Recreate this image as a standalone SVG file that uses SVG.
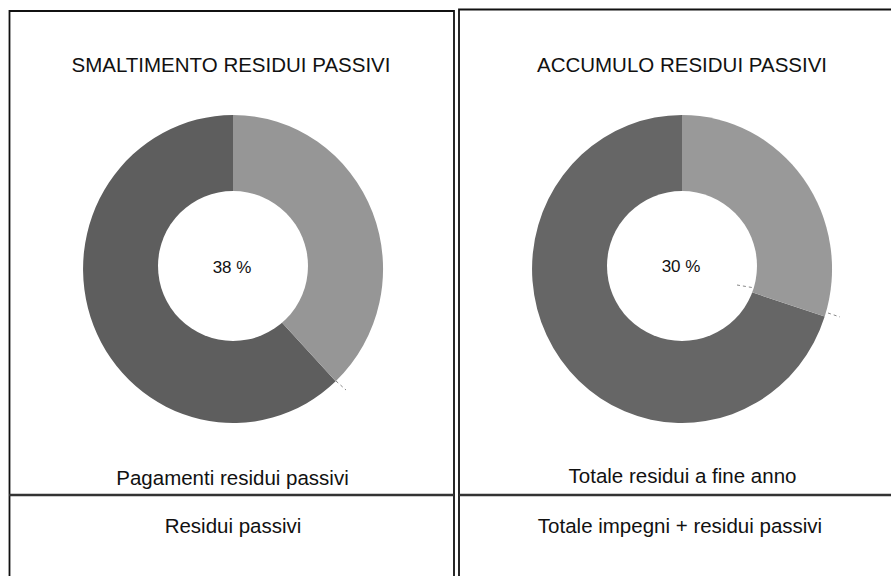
<svg xmlns="http://www.w3.org/2000/svg" width="891" height="576" viewBox="0 0 891 576">
<style>
.t{font-family:"Liberation Sans",Arial,sans-serif;fill:#111;text-anchor:middle}
.h{font-size:20.5px}
.p{font-size:17px}
.b{stroke:#111;stroke-width:1.8;fill:none}
.d{stroke:#333;stroke-width:2.4;fill:none}
.lead{stroke:#888;stroke-width:1;stroke-dasharray:3 3;fill:none}
.hole{fill:#fff}
</style>
<rect width="891" height="576" fill="#fff"/>
<g id="frame">
<path class="b" d="M9.5,576 V11 H454 V576"/>
<path class="b" d="M459,576 V9.5 H891"/>
<path class="d" d="M9,495 H454 M459,495 H891"/>
</g>
<g id="smaltimento">
<text class="t h" x="231" y="72">SMALTIMENTO RESIDUI PASSIVI</text>
<path d="M233,269 L335.7,381.3 A150,154 0 1 1 233,115 Z" fill="#5e5e5e"/>
<path d="M233,269 L233,115 A150,154 0 0 1 335.7,381.3 Z" fill="#969696"/>
<ellipse class="hole" cx="233" cy="266" rx="75" ry="75"/>
<text class="t p" x="232" y="273">38 %</text>
<text class="t h" x="232.5" y="485">Pagamenti residui passivi</text>
<text class="t h" x="233" y="533">Residui passivi</text>
</g>
<g id="accumulo">
<text class="t h" x="682" y="72">ACCUMULO RESIDUI PASSIVI</text>
<path d="M682,269 L824.7,316.6 A150,154 0 1 1 682,115 Z" fill="#666666"/>
<path d="M682,269 L682,115 A150,154 0 0 1 824.7,316.6 Z" fill="#999999"/>
<ellipse class="hole" cx="682" cy="266" rx="75" ry="75"/>
<text class="t p" x="681" y="272">30 %</text>
<text class="t h" x="682.5" y="483">Totale residui a fine anno</text>
<text class="t h" x="680" y="533">Totale impegni + residui passivi</text>
</g>
<g id="connectors">
<path class="lead" d="M336,381 L346,390"/>
<path class="lead" d="M737,285 L755,288"/>
<path class="lead" d="M828,313 L840,317"/>
</g>
</svg>
